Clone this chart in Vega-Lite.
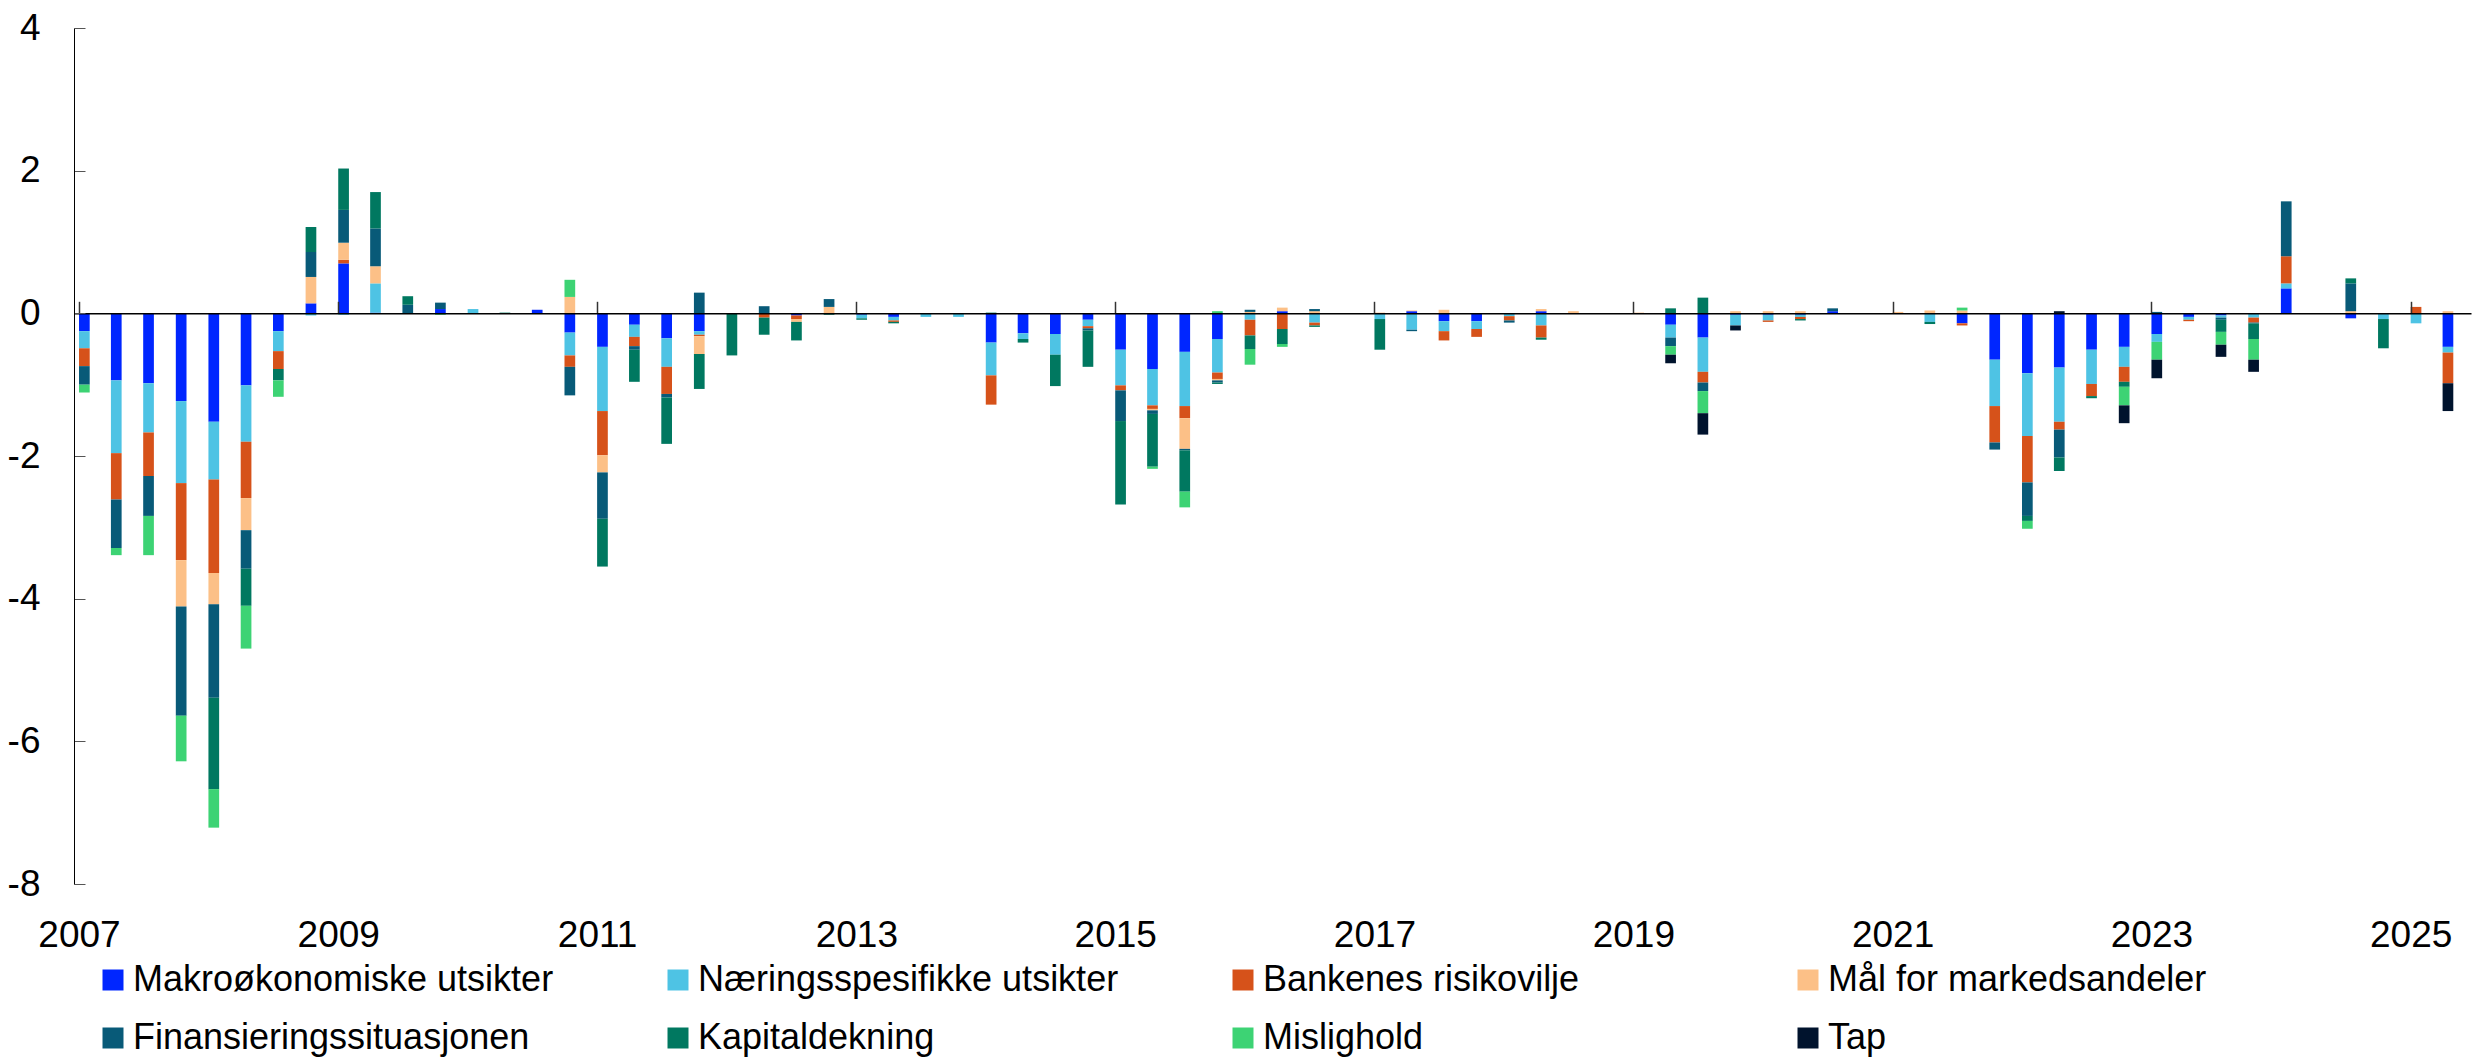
{
  "$schema": "https://vega.github.io/schema/vega-lite/v6.json",
  "autosize": "none",
  "width": 2397,
  "height": 856,
  "padding": {"left": 74, "top": 28, "right": 1, "bottom": 176},
  "background": "white",
  "config": {
    "view": {"stroke": null},
    "font": "Liberation Sans"
  },
  "datasets": {
    "series": [
      {"key": "mak", "name": "Makroøkonomiske utsikter", "rank": 1},
      {"key": "nar", "name": "Næringsspesifikke utsikter", "rank": 2},
      {"key": "ban", "name": "Bankenes risikovilje", "rank": 3},
      {"key": "mal", "name": "Mål for markedsandeler", "rank": 4},
      {"key": "fin", "name": "Finansieringssituasjonen", "rank": 5},
      {"key": "kap", "name": "Kapitaldekning", "rank": 6},
      {"key": "mis", "name": "Mislighold", "rank": 7},
      {"key": "tap", "name": "Tap", "rank": 8}
    ],
    "quarters": [
      {"date": "2007-01-01", "mak": -0.25, "nar": -0.24, "ban": -0.25, "fin": -0.26, "mis": -0.11},
      {"date": "2007-04-01", "mak": -0.94, "nar": -1.02, "ban": -0.65, "fin": -0.68, "mis": -0.10},
      {"date": "2007-07-01", "mak": -0.98, "nar": -0.69, "ban": -0.61, "fin": -0.56, "mis": -0.55},
      {"date": "2007-10-01", "mak": -1.23, "nar": -1.15, "ban": -1.08, "mal": -0.65, "fin": -1.53, "mis": -0.64},
      {"date": "2008-01-01", "mak": -1.52, "nar": -0.81, "ban": -1.31, "mal": -0.44, "fin": -1.31, "kap": -1.28, "mis": -0.54},
      {"date": "2008-04-01", "mak": -1.01, "nar": -0.79, "ban": -0.79, "mal": -0.45, "fin": -0.54, "kap": -0.52, "mis": -0.60},
      {"date": "2008-07-01", "mak": -0.25, "nar": -0.28, "ban": -0.25, "kap": -0.16, "mis": -0.23},
      {"date": "2008-10-01", "mak": 0.14, "nar": -0.03, "mal": 0.37, "fin": 0.35, "kap": 0.35},
      {"date": "2009-01-01", "mak": 0.70, "nar": -0.02, "ban": 0.05, "mal": 0.24, "fin": 0.46, "kap": 0.58},
      {"date": "2009-04-01", "mak": 0.01, "nar": 0.41, "mal": 0.24, "fin": 0.53, "kap": 0.51},
      {"date": "2009-07-01", "fin": 0.12, "kap": 0.12},
      {"date": "2009-10-01", "mak": 0.06, "fin": 0.09, "mis": -0.02},
      {"date": "2010-01-01", "nar": 0.06},
      {"date": "2010-04-01", "kap": 0.01},
      {"date": "2010-07-01", "mak": 0.05},
      {"date": "2010-10-01", "mak": -0.27, "nar": -0.32, "ban": -0.16, "mal": 0.23, "fin": -0.40, "mis": 0.24},
      {"date": "2011-01-01", "mak": -0.47, "nar": -0.90, "ban": -0.62, "mal": -0.24, "fin": -0.65, "kap": -0.67},
      {"date": "2011-04-01", "mak": -0.16, "nar": -0.17, "ban": -0.13, "fin": -0.05, "kap": -0.45},
      {"date": "2011-07-01", "mak": -0.35, "nar": -0.40, "ban": -0.38, "fin": -0.05, "kap": -0.65},
      {"date": "2011-10-01", "mak": -0.25, "nar": -0.05, "ban": -0.02, "mal": -0.25, "fin": 0.29, "kap": -0.49},
      {"date": "2012-01-01", "kap": -0.59},
      {"date": "2012-04-01", "ban": -0.06, "fin": 0.10, "kap": -0.24},
      {"date": "2012-07-01", "mak": -0.03, "ban": -0.05, "mal": -0.04, "kap": -0.26},
      {"date": "2012-10-01", "mal": 0.09, "fin": 0.11, "kap": -0.02},
      {"date": "2013-01-01", "mak": -0.02, "nar": -0.05, "kap": -0.02},
      {"date": "2013-04-01", "mak": -0.05, "nar": -0.05, "ban": -0.02, "kap": -0.02},
      {"date": "2013-07-01", "nar": -0.05},
      {"date": "2013-10-01", "nar": -0.05},
      {"date": "2014-01-01", "mak": -0.41, "nar": -0.46, "ban": -0.41, "kap": 0.01},
      {"date": "2014-04-01", "mak": -0.28, "nar": -0.08, "kap": -0.05},
      {"date": "2014-07-01", "mak": -0.29, "nar": -0.29, "kap": -0.44},
      {"date": "2014-10-01", "mak": -0.09, "nar": -0.09, "ban": -0.03, "fin": -0.03, "kap": -0.51},
      {"date": "2015-01-01", "mak": -0.51, "nar": -0.50, "ban": -0.07, "fin": -0.43, "kap": -1.17},
      {"date": "2015-04-01", "mak": -0.78, "nar": -0.51, "ban": -0.05, "mal": -0.02, "fin": -0.05, "kap": -0.74, "mis": -0.03},
      {"date": "2015-07-01", "mak": -0.54, "nar": -0.76, "ban": -0.17, "mal": -0.43, "fin": -0.02, "kap": -0.58, "mis": -0.22},
      {"date": "2015-10-01", "mak": -0.36, "nar": -0.47, "ban": -0.09, "mal": -0.02, "fin": -0.03, "kap": -0.02, "mis": 0.03},
      {"date": "2016-01-01", "nar": -0.09, "ban": -0.22, "mal": 0.02, "fin": 0.03, "kap": -0.19, "mis": -0.22},
      {"date": "2016-04-01", "mak": 0.03, "ban": -0.22, "mal": 0.05, "kap": -0.21, "mis": -0.04},
      {"date": "2016-07-01", "nar": -0.13, "ban": -0.04, "mal": 0.03, "fin": 0.03, "kap": -0.02},
      {"date": "2016-10-01"},
      {"date": "2017-01-01", "nar": -0.08, "mal": 0.01, "kap": -0.43},
      {"date": "2017-04-01", "mak": 0.03, "nar": -0.23, "mal": 0.01, "fin": -0.02},
      {"date": "2017-07-01", "mak": -0.11, "nar": -0.14, "ban": -0.13, "mal": 0.05},
      {"date": "2017-10-01", "mak": -0.11, "nar": -0.11, "ban": -0.11},
      {"date": "2018-01-01", "nar": -0.04, "ban": -0.06, "fin": -0.03},
      {"date": "2018-04-01", "mak": 0.03, "nar": -0.17, "ban": -0.17, "mal": 0.03, "kap": -0.03},
      {"date": "2018-07-01", "mal": 0.03},
      {"date": "2018-10-01"},
      {"date": "2019-01-01", "mal": 0.01},
      {"date": "2019-04-01", "mak": -0.16, "nar": -0.18, "fin": -0.12, "kap": 0.07, "mis": -0.12, "tap": -0.12},
      {"date": "2019-07-01", "mak": -0.34, "nar": -0.48, "ban": -0.15, "fin": -0.12, "kap": 0.22, "mis": -0.31, "tap": -0.30},
      {"date": "2019-10-01", "mak": -0.02, "nar": -0.15, "mal": 0.03, "tap": -0.07},
      {"date": "2020-01-01", "mak": -0.02, "nar": -0.08, "ban": -0.02, "mal": 0.03},
      {"date": "2020-04-01", "mak": -0.02, "nar": -0.03, "ban": -0.03, "mal": 0.03, "kap": -0.02},
      {"date": "2020-07-01", "mak": 0.03, "fin": 0.04},
      {"date": "2020-10-01"},
      {"date": "2021-01-01", "mal": 0.02},
      {"date": "2021-04-01", "nar": -0.12, "mal": 0.04, "kap": -0.03},
      {"date": "2021-07-01", "mak": -0.14, "ban": -0.03, "mal": 0.04, "mis": 0.04},
      {"date": "2021-10-01", "mak": -0.65, "nar": -0.65, "ban": -0.51, "fin": -0.10},
      {"date": "2022-01-01", "mak": -0.84, "nar": -0.88, "ban": -0.65, "fin": -0.47, "kap": -0.07, "mis": -0.11},
      {"date": "2022-04-01", "mak": -0.76, "nar": -0.76, "ban": -0.11, "fin": -0.39, "kap": -0.19, "tap": 0.03},
      {"date": "2022-07-01", "mak": -0.51, "nar": -0.48, "ban": -0.17, "kap": -0.03},
      {"date": "2022-10-01", "mak": -0.47, "nar": -0.28, "ban": -0.21, "kap": -0.07, "mis": -0.26, "tap": -0.25},
      {"date": "2023-01-01", "mak": -0.29, "nar": -0.11, "fin": 0.02, "mis": -0.25, "tap": -0.26},
      {"date": "2023-04-01", "mak": -0.05, "nar": -0.04, "ban": -0.02},
      {"date": "2023-07-01", "mak": -0.03, "nar": -0.03, "fin": -0.03, "kap": -0.17, "mis": -0.18, "tap": -0.17},
      {"date": "2023-10-01", "nar": -0.06, "ban": -0.07, "fin": -0.01, "kap": -0.22, "mis": -0.29, "tap": -0.17},
      {"date": "2024-01-01", "mak": 0.35, "nar": 0.07, "ban": 0.38, "fin": 0.77},
      {"date": "2024-04-01"},
      {"date": "2024-07-01", "mak": -0.07, "mal": 0.03, "fin": 0.39, "kap": 0.07},
      {"date": "2024-10-01", "nar": -0.08, "kap": -0.41},
      {"date": "2025-01-01", "nar": -0.14, "ban": 0.09},
      {"date": "2025-04-01", "mak": -0.47, "nar": -0.08, "ban": -0.43, "mal": 0.03, "tap": -0.39}
    ]
  },
  "data": {"name": "quarters"},
  "transform": [
    {"fold": ["mak", "nar", "ban", "mal", "fin", "kap", "mis", "tap"], "as": ["key", "v"]},
    {"filter": "isValid(datum.v)"},
    {"lookup": "key", "from": {"data": {"name": "series"}, "key": "key", "fields": ["name", "rank"]}}
  ],
  "mark": {"type": "bar", "size": 10.7, "xOffset": 5.35},
  "encoding": {
    "x": {
      "field": "date",
      "type": "temporal",
      "title": null,
      "scale": {
        "type": "utc",
        "nice": false,
        "domain": [
          {"year": 2007, "month": 1, "date": 1, "utc": true},
          {"year": 2025, "month": 6, "date": 6, "utc": true}
        ]
      },
      "axis": {
        "values": [
          {"year": 2007, "month": 1, "date": 1, "utc": true},
          {"year": 2009, "month": 1, "date": 1, "utc": true},
          {"year": 2011, "month": 1, "date": 1, "utc": true},
          {"year": 2013, "month": 1, "date": 1, "utc": true},
          {"year": 2015, "month": 1, "date": 1, "utc": true},
          {"year": 2017, "month": 1, "date": 1, "utc": true},
          {"year": 2019, "month": 1, "date": 1, "utc": true},
          {"year": 2021, "month": 1, "date": 1, "utc": true},
          {"year": 2023, "month": 1, "date": 1, "utc": true},
          {"year": 2025, "month": 1, "date": 1, "utc": true}
        ],
        "format": "%Y",
        "formatType": "utc",
        "offset": -570.7,
        "tickSize": -12,
        "tickColor": "#333333",
        "tickWidth": 1.5,
        "domainColor": "#000000",
        "domainWidth": 1.5,
        "labelPadding": 616.5,
        "labelFontSize": 37,
        "labelFont": "Liberation Sans",
        "labelColor": "#000000",
        "labelFlush": false,
        "labelOverlap": false,
        "grid": false,
        "zindex": 1
      }
    },
    "y": {
      "field": "v",
      "type": "quantitative",
      "stack": "zero",
      "title": null,
      "scale": {"domain": [-8, 4], "nice": false, "zero": false},
      "axis": {
        "values": [-8, -6, -4, -2, 0, 2, 4],
        "labelExpr": "replace(datum.label, '\u2212', '-')",
        "tickSize": -11,
        "tickColor": "#555555",
        "tickWidth": 1,
        "domainColor": "#000000",
        "domainWidth": 1,
        "labelPadding": 45,
        "labelFontSize": 37,
        "labelFont": "Liberation Sans",
        "labelColor": "#000000",
        "grid": false,
        "zindex": 1
      }
    },
    "order": {"field": "rank", "type": "quantitative", "sort": "ascending"},
    "color": {
      "field": "name",
      "type": "nominal",
      "scale": {
        "domain": ["Makroøkonomiske utsikter", "Næringsspesifikke utsikter", "Bankenes risikovilje", "Mål for markedsandeler", "Finansieringssituasjonen", "Kapitaldekning", "Mislighold", "Tap"],
        "range": ["#0026FF", "#4EC3E4", "#D6521A", "#FCC087", "#085A78", "#007860", "#3DD374", "#00132D"]
      },
      "legend": {
        "title": null,
        "orient": "none",
        "legendX": 21,
        "legendY": 934,
        "direction": "horizontal",
        "columns": 4,
        "gridAlign": "all",
        "columnPadding": 106,
        "rowPadding": 22,
        "padding": 0,
        "symbolType": "square",
        "symbolSize": 441,
        "symbolStrokeWidth": 0,
        "symbolOpacity": 1,
        "labelFontSize": 36,
        "labelFont": "Liberation Sans",
        "labelColor": "#000000",
        "labelOffset": 2,
        "labelLimit": 800
      }
    }
  }
}
